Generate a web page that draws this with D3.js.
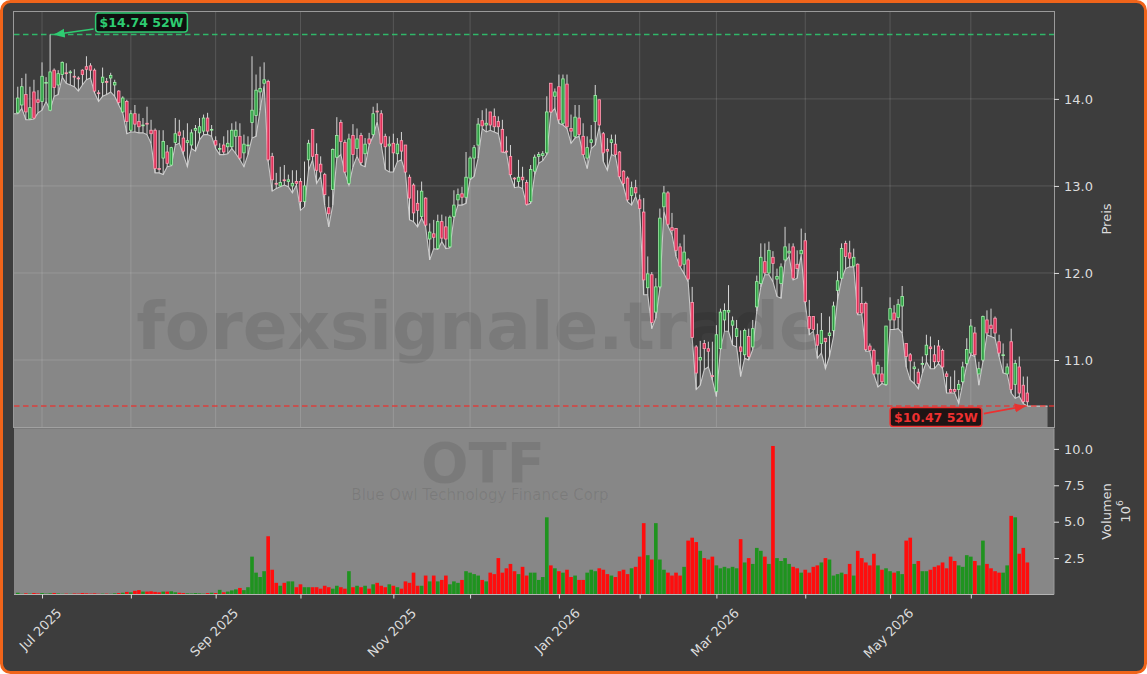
<!DOCTYPE html>
<html><head><meta charset="utf-8">
<script src="https://cdn.jsdelivr.net/npm/d3@7/dist/d3.min.js"></script>
<style>
html,body{margin:0;padding:0;background:#ffffff;}
svg{display:block;font-family:"DejaVu Sans",Verdana,sans-serif;}
</style></head>
<body><svg id="c" width="1147" height="674"></svg>
<script>
// ---------- DATA ----------
const opens=[13.84,13.93,14.05,13.77,14.08,13.99,13.97,14.18,13.87,14.33,14.16,14.28,14.30,14.30,14.26,14.24,14.33,14.37,14.38,14.33,
14.07,14.19,14.20,14.24,14.16,14.09,13.85,13.97,13.64,13.83,13.74,13.70,13.72,13.64,13.64,13.20,13.32,13.39,13.24,13.50,
13.62,13.55,13.50,13.47,13.64,13.61,13.63,13.78,13.65,13.52,13.43,13.47,13.45,13.45,13.57,13.57,13.38,13.47,13.73,13.81,
14.08,14.18,14.20,13.34,13.03,13.00,13.07,13.05,13.00,13.05,13.05,12.82,13.30,13.65,13.36,13.25,13.13,12.75,12.96,13.33,
13.73,13.50,13.03,13.58,13.43,13.58,13.37,13.54,13.59,13.86,13.83,13.57,13.46,13.49,13.37,13.52,13.47,13.10,13.01,12.80,
12.65,12.86,12.39,12.45,12.28,12.59,12.53,12.30,12.65,12.84,12.91,12.87,13.09,13.32,13.47,13.75,13.70,13.85,13.80,13.74,
13.65,13.40,13.34,13.09,13.05,13.10,13.04,12.82,13.17,13.34,13.35,13.38,14.18,14.03,14.14,13.72,14.17,13.66,13.57,13.78,
13.57,13.32,13.50,13.74,13.99,13.60,13.42,13.50,13.48,13.39,13.17,13.09,12.89,12.98,12.84,12.70,11.83,11.98,11.55,11.84,
12.76,12.92,12.52,12.51,12.30,12.10,12.15,11.66,11.15,11.00,11.19,11.13,10.82,10.64,11.13,11.46,11.55,11.40,11.27,11.15,
11.06,11.27,11.15,11.61,11.88,12.13,12.00,12.18,11.93,11.88,12.15,12.23,12.30,12.10,12.22,12.37,11.50,11.50,11.29,11.19,
11.25,11.28,11.34,11.80,11.94,12.34,12.23,12.08,12.10,11.65,11.65,11.16,11.11,10.84,10.84,10.72,11.46,11.54,11.49,11.62,
11.19,11.06,10.90,10.86,10.95,11.06,11.15,11.06,11.16,11.11,10.84,10.66,10.66,10.66,10.75,10.96,11.08,11.31,10.84,11.00,
11.46,11.40,11.48,11.21,11.05,10.84,11.21,10.72,10.92,10.71,10.62];
const highs=[14.14,14.24,14.29,14.14,14.22,14.10,14.42,14.25,14.74,14.35,14.33,14.43,14.41,14.33,14.34,14.26,14.34,14.49,14.41,14.35,
14.10,14.36,14.24,14.30,14.22,14.10,14.03,13.99,13.87,13.93,13.83,13.78,13.91,13.76,13.66,13.64,13.64,13.47,13.45,13.78,
13.76,13.64,13.72,13.65,13.70,13.78,13.82,13.84,13.70,13.57,13.49,13.57,13.64,13.72,13.74,13.72,13.59,13.57,14.49,14.28,
14.37,14.42,14.22,13.38,13.15,13.22,13.24,13.13,13.18,13.18,13.09,13.28,13.53,13.65,13.49,13.34,13.15,12.88,13.43,13.79,
13.76,13.53,13.60,13.71,13.66,13.61,13.55,13.61,13.91,13.95,13.87,13.60,13.57,13.60,13.55,13.62,13.47,13.13,13.03,12.95,
13.05,12.87,12.57,12.61,12.67,12.67,12.65,12.66,12.95,12.97,12.99,13.39,13.34,13.47,13.78,13.87,13.89,13.85,13.89,13.80,
13.76,13.57,13.47,13.10,13.30,13.22,13.07,13.24,13.36,13.39,13.40,14.03,14.18,14.12,14.28,14.28,14.28,13.82,13.93,13.93,
13.72,13.57,13.70,14.16,13.99,13.62,13.55,13.59,13.59,13.40,13.18,13.11,13.05,13.07,12.90,12.86,12.19,12.01,11.94,12.74,
13.00,12.94,12.69,12.51,12.34,12.44,12.17,11.84,11.17,11.22,11.23,11.21,11.21,11.40,11.59,11.65,11.86,11.50,11.46,11.34,
11.36,11.36,11.46,11.97,12.34,12.34,12.36,12.25,12.05,12.11,12.53,12.34,12.34,12.26,12.51,12.46,11.69,11.50,11.42,11.54,
11.25,11.50,11.67,12.02,12.34,12.37,12.37,12.28,12.11,11.84,11.67,11.19,11.13,10.98,10.92,11.39,11.72,11.63,11.70,11.85,
11.19,11.08,10.98,10.90,11.04,11.29,11.27,11.17,11.23,11.13,10.87,10.81,10.88,10.77,10.98,11.25,11.47,11.38,10.98,11.51,
11.57,11.59,11.50,11.29,11.19,10.96,11.36,11.00,11.04,10.81,10.81];
const lows=[13.83,13.89,13.76,13.76,13.77,13.84,13.87,13.97,13.87,14.03,14.05,14.25,14.18,14.16,14.14,14.09,14.16,14.22,14.24,14.07,
13.97,14.03,14.05,14.08,14.03,13.93,13.84,13.60,13.62,13.62,13.61,13.61,13.59,13.49,13.15,13.15,13.13,13.22,13.23,13.47,
13.49,13.36,13.22,13.43,13.40,13.53,13.59,13.59,13.57,13.43,13.36,13.36,13.37,13.43,13.37,13.30,13.22,13.36,13.55,13.57,
13.87,14.16,13.28,12.94,12.97,12.99,13.01,12.99,12.92,13.01,12.72,12.76,13.18,13.30,13.03,13.11,12.78,12.53,12.78,13.32,
13.36,13.15,13.01,13.22,13.34,13.24,13.22,13.47,13.57,13.74,13.47,13.19,13.16,13.16,13.28,13.30,13.15,12.61,12.59,12.53,
12.63,12.53,12.15,12.28,12.27,12.36,12.28,12.29,12.63,12.78,12.78,12.80,13.07,13.11,13.32,13.66,13.62,13.64,13.62,13.60,
13.39,13.38,13.11,12.98,12.99,12.97,12.78,12.80,13.13,13.26,13.29,13.36,13.84,13.89,13.72,13.70,13.66,13.49,13.55,13.57,
13.36,13.20,13.43,13.47,13.68,13.28,13.18,13.36,13.34,13.09,12.99,12.82,12.78,12.88,12.74,11.75,11.75,11.36,11.48,11.82,
12.71,12.54,12.44,12.19,12.07,11.99,11.90,11.25,10.66,10.71,10.89,10.92,10.77,10.58,11.12,11.33,11.33,11.17,11.15,10.81,
11.02,11.00,11.12,11.56,11.84,11.98,11.98,11.90,11.73,11.71,12.13,12.19,11.92,11.94,12.21,11.65,11.29,11.33,11.02,11.08,
10.90,11.04,11.27,11.69,11.93,12.05,12.07,12.07,11.52,11.52,11.10,11.10,10.83,10.69,10.73,10.71,11.35,11.35,11.36,11.31,
10.92,10.77,10.73,10.67,10.85,10.98,10.90,10.90,10.96,10.90,10.62,10.62,10.62,10.50,10.73,10.94,11.06,11.04,10.71,10.98,
11.29,11.27,11.25,11.04,10.85,10.84,10.62,10.56,10.58,10.50,10.47];
const closes=[14.01,14.14,13.85,13.90,13.78,13.96,14.26,14.19,14.31,14.13,14.29,14.42,14.29,14.31,14.25,14.23,14.28,14.34,14.33,14.09,
14.06,14.25,14.19,14.27,14.19,13.96,14.01,13.74,13.83,13.71,13.68,13.70,13.71,13.60,13.20,13.19,13.51,13.26,13.44,13.60,
13.58,13.40,13.52,13.61,13.66,13.68,13.78,13.63,13.65,13.47,13.43,13.39,13.49,13.64,13.64,13.32,13.48,13.47,13.87,14.10,
14.12,14.22,13.30,13.07,13.02,13.04,13.06,13.07,13.03,13.03,12.82,13.00,13.49,13.34,13.18,13.16,12.90,12.68,13.42,13.58,
13.51,13.16,13.54,13.36,13.54,13.27,13.48,13.49,13.83,13.85,13.49,13.45,13.48,13.38,13.48,13.40,13.16,12.86,12.69,12.72,
12.94,12.55,12.47,12.41,12.59,12.40,12.39,12.64,12.78,12.90,12.87,13.10,13.32,13.44,13.71,13.69,13.72,13.70,13.68,13.68,
13.39,13.39,13.13,13.08,13.10,13.07,12.79,13.19,13.33,13.36,13.37,13.85,13.85,14.08,13.76,14.23,13.68,13.63,13.79,13.59,
13.36,13.44,13.53,14.04,13.70,13.38,13.40,13.53,13.36,13.11,13.03,12.84,12.98,12.92,12.74,11.92,11.99,11.43,11.84,12.63,
12.92,12.56,12.49,12.26,12.08,12.24,11.93,11.26,10.85,11.03,11.13,11.10,10.81,11.29,11.55,11.57,11.57,11.45,11.36,11.10,
11.34,11.04,11.36,11.90,12.18,12.00,12.26,12.11,11.96,12.07,12.30,12.25,11.94,12.05,12.26,11.67,11.36,11.35,11.17,11.34,
11.21,11.31,11.62,11.91,12.28,12.19,12.17,12.18,11.54,11.54,11.12,11.11,10.84,10.94,10.75,11.39,11.59,11.46,11.64,11.73,
11.04,10.99,10.92,10.73,10.96,11.17,11.13,10.98,10.98,10.92,10.81,10.63,10.64,10.72,10.92,11.12,11.39,11.06,10.90,11.50,
11.31,11.36,11.31,11.08,11.06,10.92,10.66,10.96,10.62,10.52,10.52];
// volume in millions
const volumes=[0.12,0.05,0.08,0.06,0.10,0.07,0.10,0.06,0.08,0.10,0.07,0.05,0.06,0.05,0.07,0.06,0.10,0.08,0.06,0.08,
0.05,0.06,0.06,0.05,0.08,0.10,0.12,0.18,0.15,0.25,0.30,0.20,0.20,0.22,0.18,0.15,0.20,0.20,0.22,0.15,
0.12,0.10,0.08,0.07,0.10,0.08,0.06,0.10,0.12,0.10,0.32,0.15,0.20,0.28,0.35,0.45,0.30,0.50,2.60,1.50,
1.20,1.60,4.00,1.70,0.80,0.60,0.80,0.90,0.90,0.50,0.70,0.50,0.50,0.50,0.50,0.40,0.60,0.50,0.40,0.60,
0.50,0.40,1.60,0.50,0.60,0.50,0.60,0.40,0.70,0.80,0.60,0.50,0.70,0.60,0.50,0.40,0.90,0.80,1.50,0.60,
0.60,1.30,0.90,1.30,0.90,1.00,1.30,0.70,0.90,0.80,1.00,1.60,1.50,1.40,1.30,1.00,0.90,1.50,1.40,2.50,
1.50,1.80,2.10,1.60,1.40,1.90,1.30,1.50,1.50,1.00,1.20,5.30,2.00,1.80,1.60,1.50,1.70,1.20,1.30,1.00,
1.00,1.50,1.70,1.60,1.80,1.70,1.40,1.30,1.20,1.60,1.70,1.40,1.80,1.90,2.60,4.90,2.70,2.40,4.90,2.40,
1.70,1.50,1.30,1.50,1.30,1.90,3.70,3.90,3.60,3.00,2.50,2.40,2.60,2.00,1.80,1.90,1.80,1.90,1.80,3.80,
2.20,2.50,2.10,3.20,3.00,2.60,2.10,10.20,2.50,2.30,2.50,2.10,1.90,1.80,1.50,1.70,1.50,1.90,2.00,2.20,
2.50,2.40,1.30,1.40,1.50,1.40,2.10,1.30,3.00,2.50,2.20,2.00,2.80,2.00,1.70,1.80,1.60,1.50,1.60,1.40,
3.70,3.90,2.10,2.30,1.60,1.60,1.70,1.90,2.00,2.20,1.80,2.60,2.30,2.00,1.90,2.70,2.60,2.30,2.00,3.70,
2.10,1.80,1.60,1.50,1.50,2.00,5.40,5.30,2.80,3.20,2.20];
// month ticks: bar index of first trading day of each month
const monthTickIdx=[6,28,49,70,93,112,134,154,173,195,216,236];
const monthTickLabels=["Jul 2025","","Sep 2025","","Nov 2025","","Jan 2026","","Mar 2026","","May 2026",""];
const priceTicks=[11,12,13,14];
const volTicks=[2.5,5,7.5,10];
const ticker="OTF";
const company="Blue Owl Technology Finance Corp";
const watermark="forexsignale.trade";
const priceLabel="Preis", volLabel="Volumen";

// ---------- LAYOUT ----------
const W=1147,H=674;
const PL=14, PR=1054, PT=11, PB=427, VT=428.5, VB=594.5;
const N=closes.length;
const svg=d3.select("#c");
const x=d3.scaleLinear().domain([-0.94,256.6]).range([PL,PR]);
const yP=d3.scaleLinear().domain([10.23,15.01]).range([PB,PT]);
const yV=d3.scaleLinear().domain([0,11.4]).range([VB,VT]);
const step=x(1)-x(0);
const TXT="#dcdcdc";

// figure background + orange rounded frame
svg.append("rect").attr("x",1.5).attr("y",1.5).attr("width",W-3).attr("height",H-3)
  .attr("rx",9).attr("fill","#3d3d3d").attr("stroke","#f0641a").attr("stroke-width",3);

const defs=svg.append("defs");
defs.append("clipPath").attr("id","clipP").append("rect").attr("x",PL).attr("y",PT).attr("width",PR-PL).attr("height",PB-PT);
defs.append("clipPath").attr("id","clipV").append("rect").attr("x",PL).attr("y",VT).attr("width",PR-PL).attr("height",VB-VT);
function marker(id,col){
  defs.append("marker").attr("id",id).attr("viewBox","0 0 10 10").attr("refX",9).attr("refY",5)
    .attr("markerWidth",7).attr("markerHeight",7).attr("orient","auto-start-reverse")
    .append("path").attr("d","M0,1 L10,5 L0,9 z").attr("fill",col);
}
marker("arrG","#2ecc71"); marker("arrR","#e8322f");

// ---------- PRICE PANEL ----------
const gP=svg.append("g").attr("clip-path","url(#clipP)");
gP.append("rect").attr("x",PL).attr("y",PT).attr("width",PR-PL).attr("height",PB-PT).attr("fill","#3d3d3d");

// area under lows (extended one bar left and five bars right)
const areaIdx=d3.range(-1,N+5);
const lowAt=i=>lows[Math.max(0,Math.min(N-1,i))];
gP.append("path").datum(areaIdx)
  .attr("d",d3.area().x(i=>x(i)).y0(PB).y1(i=>yP(lowAt(i))))
  .attr("fill","#878787");
gP.append("path").datum(areaIdx)
  .attr("d",d3.line().x(i=>x(i)).y(i=>yP(lowAt(i))))
  .attr("fill","none").attr("stroke","#c8c8c8").attr("stroke-width",1.1);

// grid
gP.selectAll(".hg").data(priceTicks).join("line")
  .attr("x1",PL).attr("x2",PR).attr("y1",d=>yP(d)).attr("y2",d=>yP(d))
  .attr("stroke","#ffffff").attr("stroke-opacity",0.16).attr("stroke-width",0.9);
gP.selectAll(".vg").data(monthTickIdx).join("line")
  .attr("x1",d=>x(d)).attr("x2",d=>x(d)).attr("y1",PT).attr("y2",PB)
  .attr("stroke","#ffffff").attr("stroke-opacity",0.16).attr("stroke-width",0.9);

// watermark
gP.append("text").attr("x",480).attr("y",349).attr("text-anchor","middle")
  .attr("font-size",66).attr("font-weight","bold").attr("fill","#000").attr("fill-opacity",0.09)
  .text(watermark);

// 52W lines
const hi52=d3.max(highs), lo52=d3.min(lows);
const iHi=highs.indexOf(hi52), iLo=lows.lastIndexOf(lo52);
gP.append("line").attr("x1",PL).attr("x2",PR).attr("y1",yP(hi52)).attr("y2",yP(hi52))
  .attr("stroke","#2ecc71").attr("stroke-opacity",0.85).attr("stroke-width",1.5).attr("stroke-dasharray","5.5,3.5");
gP.append("line").attr("x1",PL).attr("x2",PR).attr("y1",yP(lo52)).attr("y2",yP(lo52))
  .attr("stroke","#e8322f").attr("stroke-opacity",0.85).attr("stroke-width",1.5).attr("stroke-dasharray","5.5,3.5");

// candles
const bars=d3.range(N);
const up=i=>closes[i]>=opens[i];
const gC=gP.append("g");
gC.selectAll(".wick").data(bars).join("line")
  .attr("x1",i=>x(i)).attr("x2",i=>x(i)).attr("y1",i=>yP(highs[i])).attr("y2",i=>yP(lows[i]))
  .attr("stroke","#d6d6d6").attr("stroke-width",1);
const bw=step*0.62;
gC.selectAll(".body").data(bars).join("rect")
  .attr("x",i=>x(i)-bw/2).attr("width",bw)
  .attr("y",i=>yP(Math.max(opens[i],closes[i])))
  .attr("height",i=>Math.max(0.8,Math.abs(yP(opens[i])-yP(closes[i]))))
  .attr("fill",i=>up(i)?"#2f9e44":"#e0315a")
  .attr("stroke",i=>up(i)?"#9ff0a8":"#ff9fb4").attr("stroke-width",0.8);

// panel frame
svg.append("rect").attr("x",PL-0.5).attr("y",PT+0.5).attr("width",PR-PL+1).attr("height",PB-PT)
  .attr("fill","none").attr("stroke","#9a9a9a").attr("stroke-width",1);

// annotations
function annotate(i,val,txt,col,bg,boxDx,boxDy,startDx,startDy,tipDx,marker){
  const tx=x(i)+tipDx, ty=yP(val);
  svg.append("line").attr("x1",tx+startDx).attr("y1",ty+startDy).attr("x2",tx).attr("y2",ty)
    .attr("stroke",col).attr("stroke-width",1.6).attr("marker-end",`url(#${marker})`);
  const g=svg.append("g");
  const t=g.append("text").attr("font-size",12.5).attr("font-weight","bold").attr("fill",col).text(txt);
  const w=t.node().getComputedTextLength()+8, h=19;
  const bx=boxDx>=0? tx+boxDx : tx+boxDx-w, by=ty+boxDy;
  g.insert("rect","text").attr("x",bx).attr("y",by).attr("width",w).attr("height",h).attr("rx",3)
    .attr("fill",bg).attr("fill-opacity",0.9).attr("stroke",col).attr("stroke-width",1.5);
  t.attr("x",bx+w/2).attr("y",by+h/2).attr("text-anchor","middle").attr("dominant-baseline","central");
}
annotate(iHi,hi52,`$${hi52.toFixed(2)} 52W`,"#2ecc71","#0b0b0b",41,-21.5,39,-5.5,4.5,"arrG");
annotate(iLo,lo52,`$${lo52.toFixed(2)} 52W`,"#ee3030","#140808",-43,1.5,-41,7.5,-2.5,"arrR");

// price axis (right)
const axP=svg.append("g").attr("transform",`translate(${PR},0)`)
  .call(d3.axisRight(yP).tickValues(priceTicks).tickFormat(d3.format(".1f")).tickSize(5).tickPadding(5));
axP.select(".domain").remove();
axP.selectAll("line").attr("stroke",TXT);
axP.selectAll("text").attr("fill",TXT).attr("font-size",13).attr("font-family","DejaVu Sans");
svg.append("text").attr("transform",`translate(1106,${(PT+PB)/2}) rotate(-90)`)
  .attr("text-anchor","middle").attr("dominant-baseline","central")
  .attr("fill",TXT).attr("font-size",13).text(priceLabel);

// ---------- VOLUME PANEL ----------
const gV=svg.append("g").attr("clip-path","url(#clipV)");
gV.append("rect").attr("x",PL).attr("y",VT).attr("width",PR-PL).attr("height",VB-VT).attr("fill","#878787");
gV.append("text").attr("x",483).attr("y",482).attr("text-anchor","middle")
  .attr("font-size",56).attr("font-weight","bold").attr("fill","#000").attr("fill-opacity",0.09).text(ticker);
gV.append("text").attr("x",480).attr("y",500).attr("text-anchor","middle")
  .attr("font-size",15).attr("fill","#000").attr("fill-opacity",0.09).text(company);
const vw=step*0.9;
gV.selectAll(".vb").data(bars).join("rect")
  .attr("x",i=>x(i)-vw/2).attr("width",vw)
  .attr("y",i=>yV(volumes[i])).attr("height",i=>yV(0)-yV(volumes[i]))
  .attr("fill",i=>up(i)?"#1f931f":"#ff0d0d");
svg.append("line").attr("x1",PL).attr("x2",PR).attr("y1",PB+1).attr("y2",PB+1).attr("stroke","#a8a8a8").attr("stroke-width",1.2);
svg.append("line").attr("x1",PL).attr("x2",PR).attr("y1",VB).attr("y2",VB).attr("stroke","#b4b4b4").attr("stroke-width",1);
svg.append("line").attr("x1",PR).attr("x2",PR).attr("y1",VT).attr("y2",VB).attr("stroke","#9a9a9a").attr("stroke-width",1);

const axV=svg.append("g").attr("transform",`translate(${PR},0)`)
  .call(d3.axisRight(yV).tickValues(volTicks).tickFormat(d3.format(".1f")).tickSize(5).tickPadding(5));
axV.select(".domain").remove();
axV.selectAll("line").attr("stroke",TXT);
axV.selectAll("text").attr("fill",TXT).attr("font-size",13).attr("font-family","DejaVu Sans");
svg.append("text").attr("transform",`translate(1106,${(VT+VB)/2}) rotate(-90)`)
  .attr("text-anchor","middle").attr("dominant-baseline","central")
  .attr("fill",TXT).attr("font-size",13).text(volLabel);
const ex=svg.append("text").attr("transform",`translate(1125,${(VT+VB)/2}) rotate(-90)`)
  .attr("text-anchor","middle").attr("dominant-baseline","central").attr("fill",TXT).attr("font-size",13);
ex.append("tspan").text("10");
ex.append("tspan").attr("font-size",9).attr("dy",-5).text("6");

// x axis
const axX=svg.append("g").attr("transform",`translate(0,${VB})`)
  .call(d3.axisBottom(x).tickValues(monthTickIdx).tickFormat((d,i)=>monthTickLabels[i]).tickSize(4).tickPadding(0));
axX.select(".domain").remove();
axX.selectAll("line").attr("stroke",TXT);
axX.selectAll("text").attr("fill",TXT).attr("font-size",13).attr("font-family","DejaVu Sans")
  .attr("text-anchor","middle").attr("dominant-baseline","central").attr("dy",null)
  .each(function(){
    const w=this.getComputedTextLength(), h=13;
    const cy=11.5+(w+h)/(2*Math.SQRT2);
    d3.select(this).attr("y",0).attr("transform",`translate(-2,${cy}) rotate(-45)`);
  });
</script></body></html>
